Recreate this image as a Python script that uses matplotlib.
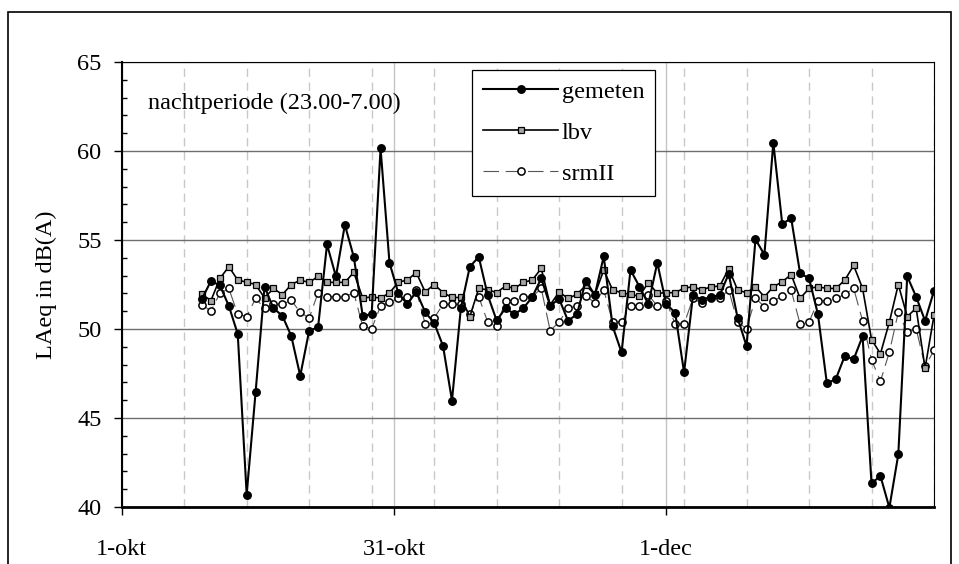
import matplotlib
matplotlib.use("Agg")
import matplotlib.pyplot as plt
from matplotlib.ticker import MultipleLocator, FixedLocator
from matplotlib.patches import Rectangle

# nachtperiode LAeq, één waarde per nacht van 10-okt t/m 31-dec (dag 0 = 1-okt)
first_day = 9
gemeten = [51.7, 52.7, 52.45, 51.3, 49.72, 40.7, 46.45, 52.37, 51.17, 50.74,
           49.6, 47.37, 49.9, 50.1, 54.75, 52.95, 55.85, 54.05, 50.75, 50.82,
           60.15, 53.72, 52.0, 51.4, 52.1, 50.94, 50.35, 49.04, 45.98, 51.2,
           53.5, 54.05, 51.91, 50.48, 51.17, 50.83, 51.17, 51.8, 52.85, 51.3,
           51.7, 50.46, 50.83, 52.72, 51.9, 54.08, 50.15, 48.68, 53.32, 52.38,
           51.4, 53.72, 51.4, 50.92, 47.56, 51.9, 51.65, 51.8, 51.9, 53.1,
           50.62, 49.04, 55.03, 54.18, 60.47, 55.9, 56.22, 53.12, 52.85, 50.82,
           46.94, 47.19, 48.48, 48.3, 49.59, 41.33, 41.74, 39.96, 42.95, 52.96,
           51.81, 50.46, 52.15]
lbv = [51.94, 51.6, 52.84, 53.5, 52.75, 52.63, 52.5, 51.75, 52.28, 51.93,
       52.5, 52.74, 52.62, 52.95, 52.62, 52.62, 52.62, 53.18, 51.74, 51.8,
       51.74, 52.03, 52.63, 52.75, 53.17, 52.08, 52.5, 52.05, 51.77, 51.77,
       50.7, 52.28, 52.2, 52.05, 52.41, 52.28, 52.62, 52.75, 53.4, 51.35,
       52.08, 51.72, 51.94, 52.46, 51.94, 53.3, 52.19, 52.04, 51.94, 51.85,
       52.61, 52.0, 52.04, 52.04, 52.3, 52.37, 52.19, 52.37, 52.41, 53.39,
       52.19, 52.04, 52.37, 51.81, 52.37, 52.65, 53.06, 51.72, 52.28, 52.37,
       52.28, 52.28, 52.74, 53.57, 52.28, 49.41, 48.61, 50.39, 52.5, 50.7,
       51.17, 47.8, 50.76]
srmII = [51.35, 51.02, 52.0, 52.28, 50.83, 50.7, 51.72, 51.17, 51.39, 51.39,
         51.61, 50.94, 50.61, 52.04, 51.81, 51.81, 51.81, 52.04, 50.15, 50.02,
         51.28, 51.5, 51.72, 51.81, 52.17, 50.28, 50.61, 51.39, 51.39, 51.39,
         50.83, 51.81, 50.39, 50.15, 51.57, 51.57, 51.81, 51.81, 52.28, 49.91,
         50.39, 51.17, 51.3, 51.85, 51.48, 52.19, 50.39, 50.39, 51.3, 51.3,
         51.91, 51.3, 51.57, 50.28, 50.28, 51.72, 51.44, 51.72, 51.72, 52.19,
         50.39, 50.02, 51.72, 51.26, 51.57, 51.85, 52.17, 50.28, 50.39, 51.57,
         51.57, 51.72, 51.94, 52.28, 50.46, 48.28, 47.06, 48.7, 50.94, 49.83,
         50.02, 47.9, 48.8]
xtick_pos = [0, 30.5, 61]
xtick_labels = ["1-okt", "31-okt", "1-dec"]

days = list(range(first_day, first_day + len(gemeten)))

plt.rcParams["font.family"] = ["Liberation Serif", "DejaVu Serif"]
FS = 17.5

W, H = 959, 564
fig = plt.figure(figsize=(W / 100, H / 100), dpi=100)
# plot area in pixels: x 121.7..934, y 62..507
ax = fig.add_axes([121.7 / W, 1 - 507 / H, (934 - 121.7) / W, (507 - 62) / H])

# outer chart frame
fig.patches.append(Rectangle((8 / W, -0.1), (951 - 8) / W, 1.1 - 12 / H,
                             transform=fig.transFigure, fill=False,
                             ec="black", lw=1.2, zorder=0))

ax.plot(days, srmII, color="#555555", lw=0.8, dashes=(14, 6), marker="o", ms=5.2,
        mfc="white", mec="black", mew=1.1, label="srmII", zorder=3)
ax.plot(days, lbv, color="black", lw=1.2, marker="s", ms=5.0,
        mfc="#a6a6a6", mec="black", mew=0.9, label="lbv", zorder=4)
ax.plot(days, gemeten, color="black", lw=1.5, marker="o", ms=5.4,
        mfc="black", mec="black", label="gemeten", zorder=5)

ax.set_xlim(0, 91)
ax.set_ylim(40, 65)
ax.xaxis.set_major_locator(FixedLocator(xtick_pos))
ax.set_xticklabels(xtick_labels)
ax.xaxis.set_minor_locator(MultipleLocator(7))
ax.yaxis.set_major_locator(MultipleLocator(5))
ax.yaxis.set_minor_locator(MultipleLocator(1))

ax.grid(axis="y", which="major", color="#6e6e6e", lw=1.0, zorder=1)
ax.grid(axis="x", which="major", color="#c4c4c4", lw=1.0, zorder=1)
ax.grid(axis="x", which="minor", color="#c8c8c8", lw=1.0, ls=(0, (6, 4)), zorder=1)

ax.tick_params(axis="y", which="major", direction="out", length=6, width=1,
               labelsize=FS, pad=8.5)
ax.tick_params(axis="y", which="minor", direction="in", length=3.6, width=1)
ax.tick_params(axis="x", which="major", direction="out", length=6, width=1,
               labelsize=FS, pad=17)
ax.tick_params(axis="x", which="minor", length=0)

for s in ("top", "right"):
    ax.spines[s].set_linewidth(0.8)
ax.spines["left"].set_linewidth(1.5)
ax.spines["bottom"].set_linewidth(2.0)

ax.set_ylabel("LAeq in dB(A)", fontsize=FS, va="center")
ax.yaxis.set_label_coords((46 - 121.7) / (934 - 121.7), 0.5)

ax.text((148 - 121.7) / (934 - 121.7), (507 - 103) / (507 - 62),
        "nachtperiode (23.00-7.00)", transform=ax.transAxes,
        fontsize=FS, va="center", ha="left")

h, l = ax.get_legend_handles_labels()
order = [2, 1, 0]
leg = ax.legend([h[i] for i in order], [l[i] for i in order],
                loc="upper left",
                bbox_to_anchor=((472 - 121.7) / (934 - 121.7), (507 - 70) / (507 - 62)),
                borderaxespad=0, fontsize=FS, frameon=True, fancybox=False,
                edgecolor="black", framealpha=1, borderpad=0.45,
                labelspacing=0.78, handlelength=3.1, handletextpad=0.15)
leg.get_frame().set_linewidth(0.9)
leg.set_zorder(10)

fig.savefig("out.png", dpi=100)
